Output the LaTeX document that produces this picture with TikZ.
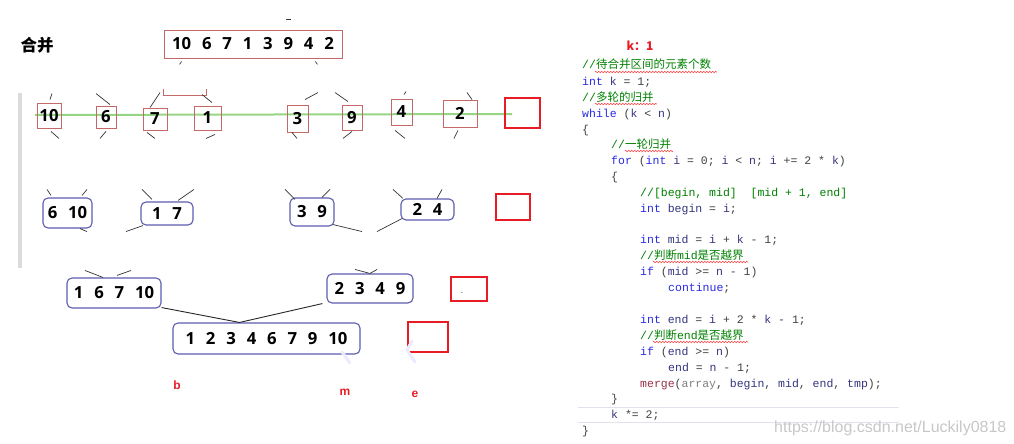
\documentclass[tikz,border=0pt]{standalone}
\usepackage{fontspec}
\usepackage{tikz}
\usetikzlibrary{decorations.pathmorphing}

\newfontfamily\cjk{Noto Sans CJK SC}
\newfontfamily\codefont{Liberation Mono}
\newfontfamily\numfont{Open Sans}
\newfontfamily\webfont{Liberation Sans}

\definecolor{cellred}{RGB}{196,104,104}
\definecolor{runblue}{RGB}{92,92,176}
\definecolor{slotred}{RGB}{232,28,36}
\definecolor{pathgreen}{RGB}{150,214,130}
\definecolor{kwblue}{RGB}{40,40,230}
\definecolor{idnavy}{RGB}{52,52,128}
\definecolor{cmtgreen}{RGB}{0,128,0}
\definecolor{fnred}{RGB}{150,50,70}
\definecolor{rulegray}{RGB}{226,226,236}

\newcommand\kw[1]{\textcolor{kwblue}{#1}}
\newcommand\id[1]{\textcolor{idnavy}{#1}}
\newcommand\cm[1]{\textcolor{cmtgreen}{#1}}
\newcommand\gap{\hspace{0.65em}}

\begin{document}
\begin{tikzpicture}[x=1pt,y=-1pt,
cell/.style={draw=cellred, line width=0.9, inner sep=0, font=\numfont\bfseries\fontsize{16.7}{18}\selectfont},
run/.style={draw=runblue, line width=1.1, rounded corners=5, inner sep=0, font=\numfont\bfseries\fontsize{16.7}{18}\selectfont},
slotbox/.style={draw=slotred, line width=2, inner sep=0},
stub/.style={black!80, line width=0.7},
link/.style={black!85, line width=0.9},
code/.style={anchor=base west, inner sep=0, text=black!75, font=\codefont\fontsize{11.5}{13}\selectfont},
squig/.style={red!75, line width=0.5, decorate, decoration={zigzag, segment length=3, amplitude=0.8}},
tag/.style={text=slotred, font=\webfont\bfseries\fontsize{12}{14}\selectfont}
]
\useasboundingbox (0,0) rectangle (1014,444);

\draw[line width=3.5, black!14] (20,93) -- (20,268);
\draw[line width=2, pathgreen] (35,115) -- (512,114);

\node[font=\cjk\bfseries\fontsize{16.5}{18}\selectfont] (title) at (37,45) {合并};
\node[cell, minimum width=178, minimum height=28] (src) at (253,44) {10\gap6\gap7\gap1\gap3\gap9\gap4\gap2};
\draw[stub] ([shift={(18,3)}]src.south west) -- ++(-2,3);
\draw[stub] ([shift={(-27,3)}]src.south east) -- ++(2,3);
\draw[stub] (286,19) -- (291,19);

\node[cell, minimum width=24, minimum height=25] (n10) at (49,115.5) {10};
\node[cell, minimum width=20, minimum height=22] (n6) at (106,117) {6};
\node[cell, minimum width=24, minimum height=22] (n7) at (155,119) {7};
\node[cell, minimum width=27, minimum height=24] (n1) at (207.5,118) {1};
\node[cell, minimum width=21, minimum height=27] (n3) at (297.5,118.5) {3};
\node[cell, minimum width=20, minimum height=25] (n9) at (352,117.5) {9};
\node[cell, minimum width=21, minimum height=26] (n4) at (401.5,112) {4};
\node[cell, minimum width=34, minimum height=27] (n2) at (460,113.5) {2};
\draw[cellred, line width=0.9] (163,89) -- (163,95) -- (206,95) -- (206,89);

\draw[stub] ([shift={(1,-3)}]n10.north) -- ++(2,-6);
\draw[stub] ([shift={(4,-1)}]n6.north) -- ++(-14,-11);
\draw[stub] ([shift={(-5,0)}]n7.north) -- ++(10,-15);
\draw[stub] ([shift={(4.5,-3)}]n1.north) -- ++(-10,-8);
\draw[stub] ([shift={(7.5,-5)}]n3.north) -- ++(13,-7);
\draw[stub] ([shift={(-4,-3)}]n9.north) -- ++(-13,-9);
\draw[stub] ([shift={(2.5,-4)}]n4.north) -- ++(2,-3);
\draw[stub] ([shift={(12,0)}]n2.north) -- ++(-5,-7);
\draw[stub] ([shift={(2,3)}]n10.south) -- ++(8,7);
\draw[stub] ([shift={(0,3)}]n6.south) -- ++(-6,7);
\draw[stub] ([shift={(-8,2)}]n7.south) -- ++(8,6);
\draw[stub] ([shift={(7.5,4)}]n1.south) -- ++(-9,4);
\draw[stub] ([shift={(-5.5,0)}]n3.south) -- ++(5,6);
\draw[stub] ([shift={(0,1)}]n9.south) -- ++(-9,7);
\draw[stub] ([shift={(-6.5,5)}]n4.south) -- ++(10,8);
\draw[stub] ([shift={(-2,3)}]n2.south) -- ++(-4,8);

\node[run, minimum width=49, minimum height=30] (p1) at (67.5,213) {6\gap10};
\node[run, minimum width=52, minimum height=23] (p2) at (167,213.5) {1\gap7};
\node[run, minimum width=44, minimum height=28] (p3) at (312,212) {3\gap9};
\node[run, minimum width=53, minimum height=21] (p4) at (427.5,209.5) {2\gap4};

\draw[stub] ([shift={(-16.5,-2)}]p1.north) -- ++(-4,-6);
\draw[stub] ([shift={(14.5,-2)}]p1.north) -- ++(5,-6);
\draw[stub] ([shift={(-15,-2)}]p2.north) -- ++(-10,-10);
\draw[stub] ([shift={(11,-1)}]p2.north) -- ++(16,-11);
\draw[stub] ([shift={(-17,2)}]p3.north) -- ++(-10,-10);
\draw[stub] ([shift={(10,0)}]p3.north) -- ++(8,-8);
\draw[stub] ([shift={(-24.5,0)}]p4.north) -- ++(-10,-9);
\draw[stub] ([shift={(9.5,0)}]p4.north) -- ++(5,-9);
\draw[stub] ([shift={(12.5,0)}]p1.south) -- ++(7,3);
\draw[stub] ([shift={(-24,0)}]p2.south) -- ++(-17,6);
\draw[stub] ([shift={(21,-2)}]p3.south) -- ++(29,7);
\draw[stub] ([shift={(-25.5,-2)}]p4.south) -- ++(-25,13);

\node[run, minimum width=94, minimum height=30] (q1) at (114,293) {1\gap6\gap7\gap10};
\node[run, minimum width=86, minimum height=29] (q2) at (370,288.5) {2\gap3\gap4\gap9};
\node[run, minimum width=187, minimum height=31] (all) at (266.5,338.5) {1\gap2\gap3\gap4\gap6\gap7\gap9\gap10};

\draw[stub] ([shift={(-11,0)}]q1.north) -- ++(-18,-7);
\draw[stub] ([shift={(3,-2)}]q1.north) -- ++(14,-5);
\draw[stub] (q2.north) -- ++(-15,-4);
\draw[stub] (q2.north) -- ++(7,-4);
\draw[link] ([yshift=1]q1.south east) -- ([xshift=-27]all.north) -- ([xshift=-4]q2.south west);

\node[slotbox, minimum width=35, minimum height=30] (s1) at (522.5,113) {};
\node[slotbox, minimum width=34, minimum height=26] (s2) at (513,207) {};
\node[slotbox, minimum width=36, minimum height=24] (s3) at (469,289) {};
\node[slotbox, minimum width=40, minimum height=30] (s4) at (428,337) {};
\node[inner sep=0, text=black!70, font=\fontsize{10}{10}\selectfont] (dot) at (462,293) {.};

\draw[line width=3, blue!8, line cap=round] (342,352) -- (350,363);
\draw[line width=3, blue!8, line cap=round] (412,341) -- (407,350) -- (415,362);

\node[tag] (lb) at (177,385) {b};
\node[tag] (lm) at (345,392) {m};
\node[tag] (le) at (415,394) {e};

\node[tag, font=\cjk\bfseries\fontsize{12}{14}\selectfont] (kval) at (640,46) {k：1};

\node[code] (c0) at (582,69) {\cm{//{\cjk 待合并区间的元素个数}}};
\node[code] (c1) at (582,85) {\kw{int} \id{k} = 1;};
\node[code] (c2) at (582,101) {\cm{//{\cjk 多轮的归并}}};
\node[code] (c3) at (582,117) {\kw{while} (\id{k} < \id{n})};
\node[code] (c4) at (582,133) {\{};
\node[code] (c5) at (611,148.5) {\cm{//{\cjk 一轮归并}}};
\node[code] (c6) at (611,164.4) {\kw{for} (\kw{int} \id{i} = 0; \id{i} < \id{n}; \id{i} += 2 * \id{k})};
\node[code] (c7) at (611,180.3) {\{};
\node[code] (c8) at (640,196.2) {\cm{//[begin, mid]\ \ [mid + 1, end]}};
\node[code] (c9) at (640,212.1) {\kw{int} \id{begin} = \id{i};};
\node[code] (c10) at (640,243.9) {\kw{int} \id{mid} = \id{i} + \id{k} - 1;};
\node[code] (c11) at (640,259.8) {\cm{//{\cjk 判断}mid{\cjk 是否越界}}};
\node[code] (c12) at (640,275.7) {\kw{if} (\id{mid} >= \id{n} - 1)};
\node[code] (c13) at (668,291.6) {\kw{continue};};
\node[code] (c14) at (640,323.4) {\kw{int} \id{end} = \id{i} + 2 * \id{k} - 1;};
\node[code] (c15) at (640,339.3) {\cm{//{\cjk 判断}end{\cjk 是否越界}}};
\node[code] (c16) at (640,355.2) {\kw{if} (\id{end} >= \id{n})};
\node[code] (c17) at (668,371.1) {\id{end} = \id{n} - 1;};
\node[code] (c18) at (640,387) {\textcolor{fnred}{merge}(\textcolor{black!50}{array}, \id{begin}, \id{mid}, \id{end}, \id{tmp});};
\node[code] (c19) at (611,402.9) {\}};
\node[code] (c20) at (611,418.8) {\id{k} *= 2;};
\node[code] (c21) at (582,434.7) {\}};

\draw[squig] (595,72) -- (717,72);
\draw[squig] (595,104) -- (657,104);
\draw[squig] (625,151) -- (673,151);
\draw[squig] (653,262) -- (748,262);
\draw[squig] (653,342) -- (748,342);

\draw[line width=1, rulegray] (578,407) -- (899,407);
\draw[line width=1, rulegray] (578,422) -- (899,422);

\node[anchor=base west, inner sep=0, text=black!22, font=\webfont\fontsize{16}{18}\selectfont] (wm) at (774,432) {https://blog.csdn.net/Luckily0818};
\end{tikzpicture}
\end{document}
